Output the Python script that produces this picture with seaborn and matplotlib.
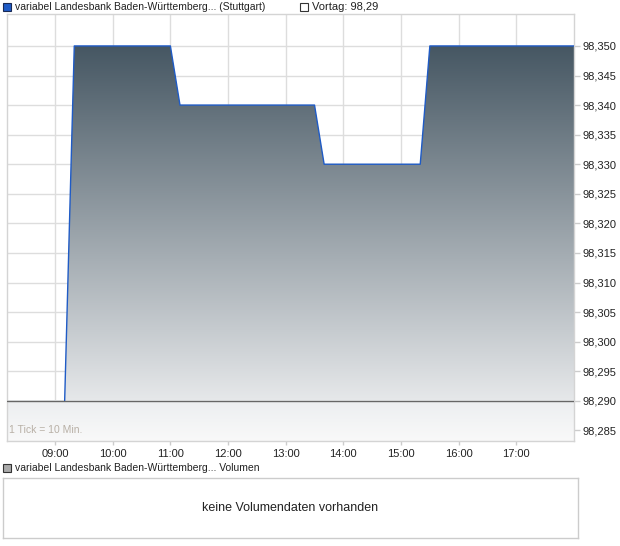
import matplotlib
matplotlib.use("Agg")
import matplotlib.pyplot as plt
import matplotlib.colors as mcolors
from matplotlib.patches import Polygon, Rectangle
import numpy as np
import pandas as pd
import seaborn as sns

# ---- data ----
times = ["09:10", "09:20", "11:00", "11:10", "13:30", "13:40", "15:20", "15:30", "18:00"]
prices = [98.29, 98.35, 98.35, 98.34, 98.34, 98.33, 98.33, 98.35, 98.35]
prev_close = 98.29
x_tick_labels = ["09:00", "10:00", "11:00", "12:00", "13:00", "14:00", "15:00", "16:00", "17:00"]
y_ticks = [98.285, 98.290, 98.295, 98.300, 98.305, 98.310, 98.315, 98.320,
           98.325, 98.330, 98.335, 98.340, 98.345, 98.350]
title_text = "variabel Landesbank Baden-Württemberg... (Stuttgart)"
prev_text = "Vortag: 98,29"
vol_title = "variabel Landesbank Baden-Württemberg... Volumen"
vol_text = "keine Volumendaten vorhanden"
tick_note = "1 Tick = 10 Min."

def to_hours(t):
    h, m = t.split(":")
    return int(h) + int(m) / 60.0

df = pd.DataFrame({"t": [to_hours(t) for t in times], "p": prices})
xt = [to_hours(t) for t in x_tick_labels]

sns.set_theme(style="white")
plt.rcParams["font.family"] = ["Liberation Sans", "DejaVu Sans"]

W, H = 620, 546
fig = plt.figure(figsize=(W / 100, H / 100), dpi=100)
fig.patch.set_facecolor("white")

def fx(px):
    return px / W

def fy(py):
    return 1 - py / H

# main axes
L, R, T, B = 7, 574, 14, 441
ax = fig.add_axes([fx(L), fy(B), fx(R - L), (B - T) / H])
xmin, xmax = to_hours("08:10"), to_hours("18:00")
ymin, ymax = 98.2832, 98.3554
ax.set_xlim(xmin, xmax)
ax.set_ylim(ymin, ymax)
ax.set_facecolor("white")

# gridlines
for v in xt:
    ax.axvline(v, color="#dddddd", lw=1, zorder=0)
for v in y_ticks:
    ax.axhline(v, color="#dddddd", lw=1, zorder=0)

# area gradient (data to previous close)
cmap_area = mcolors.LinearSegmentedColormap.from_list("area", ["#e6e8ea", "#465763"])
grad = np.linspace(0, 1, 256).reshape(-1, 1)
top_val = max(prices)
im = ax.imshow(grad, extent=[xmin, xmax, prev_close, top_val], origin="lower",
               aspect="auto", cmap=cmap_area, zorder=1, interpolation="bilinear")
verts = [(df.t.iloc[0], prev_close)] + list(zip(df.t, df.p)) + [(df.t.iloc[-1], prev_close)]
poly = Polygon(verts, closed=True, facecolor="none", edgecolor="none", transform=ax.transData)
ax.add_patch(poly)
im.set_clip_path(poly)

# band below previous close
cmap_band = mcolors.LinearSegmentedColormap.from_list("band", ["#f9f9f9", "#eceef0"])
ax.imshow(grad, extent=[xmin, xmax, ymin, prev_close], origin="lower",
          aspect="auto", cmap=cmap_band, zorder=1, interpolation="bilinear")

# price line
sns.lineplot(data=df, x="t", y="p", ax=ax, color="#1f5bc6", lw=1.0, zorder=4, legend=False)
# previous close line
ax.axhline(prev_close, color="#666666", lw=1, zorder=5)

ax.set_xlim(xmin, xmax)
ax.set_ylim(ymin, ymax)
ax.set_xlabel("")
ax.set_ylabel("")
ax.set_xticks(xt)
ax.set_xticklabels(x_tick_labels)
ax.set_yticks(y_ticks)
ax.set_yticklabels([f"{v:.3f}".replace(".", ",") for v in y_ticks])
ax.yaxis.tick_right()
ax.tick_params(axis="y", which="both", right=True, left=False, length=4, width=1,
               color="#cccccc", labelsize=8, labelcolor="#222222", pad=2)
ax.tick_params(axis="x", which="both", bottom=True, length=3, width=1,
               color="#cccccc", labelsize=8, labelcolor="#222222", pad=3)
for s in ax.spines.values():
    s.set_color("#d4d4d4")
    s.set_linewidth(1)
    s.set_visible(True)

ax.text(0.003, 0.015, tick_note, transform=ax.transAxes, fontsize=7.5,
        color="#b8b0a6", ha="left", va="bottom", zorder=6)

# top legend
fig.patches.append(Rectangle((fx(3), fy(11)), 8 / W, 8 / H, transform=fig.transFigure,
                             facecolor="#1f5bc6", edgecolor="#1a2a55", lw=0.8))
fig.text(fx(15), fy(7), title_text, fontsize=7.5, color="#222222", va="center", ha="left")
fig.patches.append(Rectangle((fx(300), fy(11)), 8 / W, 8 / H, transform=fig.transFigure,
                             facecolor="white", edgecolor="#333333", lw=0.8))
fig.text(fx(312), fy(7), prev_text, fontsize=8, color="#222222", va="center", ha="left")

# volume panel
fig.patches.append(Rectangle((fx(3), fy(472)), 8 / W, 8 / H, transform=fig.transFigure,
                             facecolor="#aaaaaa", edgecolor="#333333", lw=0.8))
fig.text(fx(15), fy(468), vol_title, fontsize=7.5, color="#222222", va="center", ha="left")
vax = fig.add_axes([fx(3), fy(538), fx(578 - 3), (538 - 478) / H])
vax.set_xticks([])
vax.set_yticks([])
vax.set_facecolor("white")
for s in vax.spines.values():
    s.set_color("#cccccc")
    s.set_linewidth(1)
vax.text(0.5, 0.5, vol_text, transform=vax.transAxes, ha="center", va="center",
         fontsize=9, color="#222222")

fig.savefig("out.png", dpi=100, facecolor="white")
